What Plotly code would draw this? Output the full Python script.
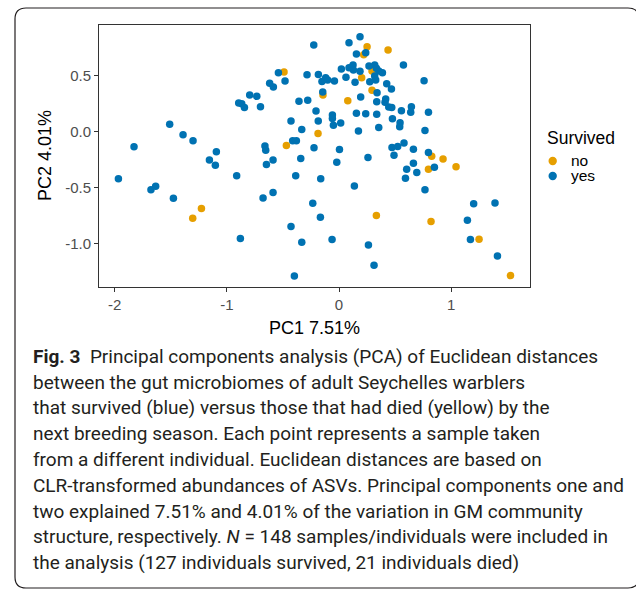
import plotly.graph_objects as go

# ---- data (PC1, PC2) ----
no_pc1 = [-0.49, 0.25, 0.437, 0.22, 0.294, 0.202, 0.294, -0.143, 0.078, -0.187,
          -0.469, 0.826, 0.927, 1.043, 0.797, 0.333, 0.82, 1.248, 1.528, -1.304, -1.226]
no_pc2 = [0.53, 0.755, 0.726, 0.684, 0.538, 0.479, 0.366, 0.324, 0.273, -0.018,
          -0.125, -0.221, -0.245, -0.316, -0.337, -0.75, -0.804, -0.962, -1.286, -0.774, -0.688]

yes_pc1 = [-0.225, -0.54, -0.285, -0.184, -0.481, -0.618, -0.585, -0.796, -0.733, -0.894,
           -0.867, -0.843, -0.70, -0.357, -0.279, -0.205, -0.185, -0.428, -0.332, -1.509,
           -1.39, -1.301, -1.827, -1.093, -0.66, -0.653, -0.413, -0.38, -0.223, 0.187,
           0.089, 0.155, 0.238, 0.574, 0.021, 0.089, 0.125, 0.128, 0.187, 0.267,
           0.318, 0.333, 0.354, 0.387, 0.318, 0.327, 0.274, 0.062, 0.143, -0.119,
           -0.152, -0.101, -0.041, 0.758, 0.425, 0.467, 0.339, -0.145, 0.193, 0.336,
           0.416, 0.41, 0.443, 0.47, 0.556, 0.645, 0.639, 0.797, -0.059, -0.059,
           -0.05, 0.015, 0.155, 0.238, 0.336, 0.476, 0.544, 0.541, 0.354, 0.173,
           0.766, 0.004, 0.472, 0.523, 0.579, 0.663, 0.797, -0.341, -0.02, 0.258,
           0.49, 0.85, 0.663, 0.693, 0.603, 0.592, 0.766, -0.163, 0.137, -0.234,
           -0.166, 1.2, 1.39, 1.144, 1.171, 1.412, -0.332, -0.062, 0.262, 0.312,
           -1.966, -1.676, -1.634, -1.476, -1.155, -1.102, -0.912, -0.879, -0.647, -0.588,
           -0.386, -0.588, -0.677, -0.428, -0.398]
yes_pc2 = [0.771, 0.523, 0.505, 0.507, 0.449, 0.429, 0.396, 0.324, 0.3125, 0.253,
           0.246, 0.214, 0.22, 0.268, 0.277, 0.181, 0.092, 0.092, 0.018, 0.065,
           -0.03, -0.084, -0.1375, -0.182, -0.129, -0.167, -0.084, -0.084, -0.146, 0.845,
           0.791, 0.69, 0.702, 0.592, 0.556, 0.568, 0.592, 0.547, 0.536, 0.583,
           0.592, 0.5625, 0.538, 0.523, 0.494, 0.458, 0.443, 0.482, 0.4375, 0.479,
           0.446, 0.458, 0.449, 0.452, 0.425, 0.378, 0.345, 0.351, 0.306, 0.264,
           0.288, 0.26, 0.217, 0.214, 0.184, 0.22, 0.17, 0.17, 0.146, 0.116,
           0.056, 0.074, 0.161, 0.157, 0.152, 0.1125, 0.077, 0.041, 0.036, 0.003,
           0.009, -0.161, -0.143, -0.134, -0.104, -0.158, -0.1875, -0.241, -0.274, -0.232,
           -0.212, -0.319, -0.283, -0.366, -0.337, -0.417, -0.521, -0.423, -0.486, -0.64,
           -0.765, -0.646, -0.6375, -0.792, -0.964, -1.111, -0.988, -0.964, -1.0125, -1.194,
           -0.423, -0.521, -0.488, -0.596, -0.256, -0.301, -0.396, -0.955, -0.295, -0.256,
           -0.396, -0.545, -0.593, -0.848, -1.289]

groups = ["no", "yes"]
group_colors = ["#E69F00", "#0072B2"]

x_tick_vals = [-2, -1, 0, 1]
x_tick_text = ["-2", "-1", "0", "1"]
y_tick_vals = [0.5, 0.0, -0.5, -1.0]
y_tick_text = ["0.5", "0.0", "-0.5", "-1.0"]

x_title = "PC1 7.51%"
y_title = "PC2 4.01%"
legend_title = "Survived"

caption_lines = [
    "<b>Fig. 3</b>&nbsp; Principal components analysis (PCA) of Euclidean distances",
    "between the gut microbiomes of adult Seychelles warblers",
    "that survived (blue) versus those that had died (yellow) by the",
    "next breeding season. Each point represents a sample taken",
    "from a different individual. Euclidean distances are based on",
    "CLR-transformed abundances of ASVs. Principal components one and",
    "two explained 7.51% and 4.01% of the variation in GM community",
    "structure, respectively. <i>N</i> = 148 samples/individuals were included in",
    "the analysis (127 individuals survived, 21 individuals died)",
]

W, H = 636, 590
L, R, T, B = 99, 106, 25, 303
PW, PH = W - L - R, H - T - B


def px(xp):
    return (xp - L) / PW


def py(yp):
    return (H - B - yp) / PH


fig = go.Figure()
for name, col, xs, ys in [("no", group_colors[0], no_pc1, no_pc2),
                          ("yes", group_colors[1], yes_pc1, yes_pc2)]:
    fig.add_trace(go.Scatter(
        x=xs, y=ys, mode="markers", name=name, showlegend=False,
        marker=dict(color=col, size=7.5, line=dict(width=0)),
    ))

axis_common = dict(
    showgrid=False, zeroline=False, showline=True, mirror=True,
    linecolor="#333333", linewidth=1, ticks="outside", ticklen=4,
    tickcolor="#333333", tickwidth=1,
    tickfont=dict(family="Liberation Sans, Arial", size=15, color="#4d4d4d"),
)

fig.update_xaxes(range=[-2.139, 1.702], tickvals=x_tick_vals, ticktext=x_tick_text,
                 **axis_common)
fig.update_yaxes(range=[-1.3875, 0.949], tickvals=y_tick_vals, ticktext=y_tick_text,
                 **axis_common)

title_font = dict(family="Liberation Sans, Arial", size=18, color="black")
annotations = [
    dict(text=x_title, x=0.5, y=py(328), xref="paper", yref="paper",
         xanchor="center", yanchor="middle", showarrow=False, font=title_font),
    dict(text=y_title, x=px(45), y=0.5, xref="paper", yref="paper",
         xanchor="center", yanchor="middle", showarrow=False, textangle=-90,
         font=title_font),
    dict(text=legend_title, x=px(545), y=py(138), xref="paper", yref="paper",
         xanchor="left", yanchor="middle", showarrow=False,
         font=dict(family="Liberation Sans, Arial", size=17.5, color="black")),
]

shapes = []
legend_y = [161, 176]
for name, col, ly in zip(groups, group_colors, legend_y):
    annotations.append(dict(
        text=name, x=px(569), y=py(ly - 1), xref="paper", yref="paper",
        xanchor="left", yanchor="middle", showarrow=False,
        font=dict(family="Liberation Sans, Arial", size=15.5, color="black")))
    r = 4.2
    shapes.append(dict(type="circle", xref="paper", yref="paper",
                       x0=px(552.7 - r), x1=px(552.7 + r), y0=py(ly + r), y1=py(ly - r),
                       fillcolor=col, line=dict(width=0)))

line_base0 = 363.3
line_step = 25.8
for i, line in enumerate(caption_lines):
    baseline = line_base0 + i * line_step
    annotations.append(dict(
        text=line, x=px(31), y=py(baseline - 7), xref="paper", yref="paper",
        xanchor="left", yanchor="middle", showarrow=False,
        font=dict(family="Roboto", size=19, color="#231f20"),
    ))

# outer rounded frame (pixel -> paper)
fl, fr, ft, fb = px(15), px(639), py(8), py(588)
rx, ry = 11 / PW, 11 / PH
frame_path = (f"M {fl+rx},{ft} L {fr-rx},{ft} Q {fr},{ft} {fr},{ft-ry} "
              f"L {fr},{fb+ry} Q {fr},{fb} {fr-rx},{fb} "
              f"L {fl+rx},{fb} Q {fl},{fb} {fl},{fb+ry} "
              f"L {fl},{ft-ry} Q {fl},{ft} {fl+rx},{ft} Z")
shapes.append(dict(type="path", path=frame_path, xref="paper", yref="paper",
                   line=dict(color="#231f20", width=1.2), fillcolor="rgba(0,0,0,0)",
                   layer="above"))

fig.update_layout(
    width=W, height=H,
    margin=dict(l=L, r=R, t=T, b=B, pad=0),
    paper_bgcolor="white", plot_bgcolor="white",
    showlegend=False,
    annotations=annotations,
    shapes=shapes,
)

fig.write_html("out.html")
